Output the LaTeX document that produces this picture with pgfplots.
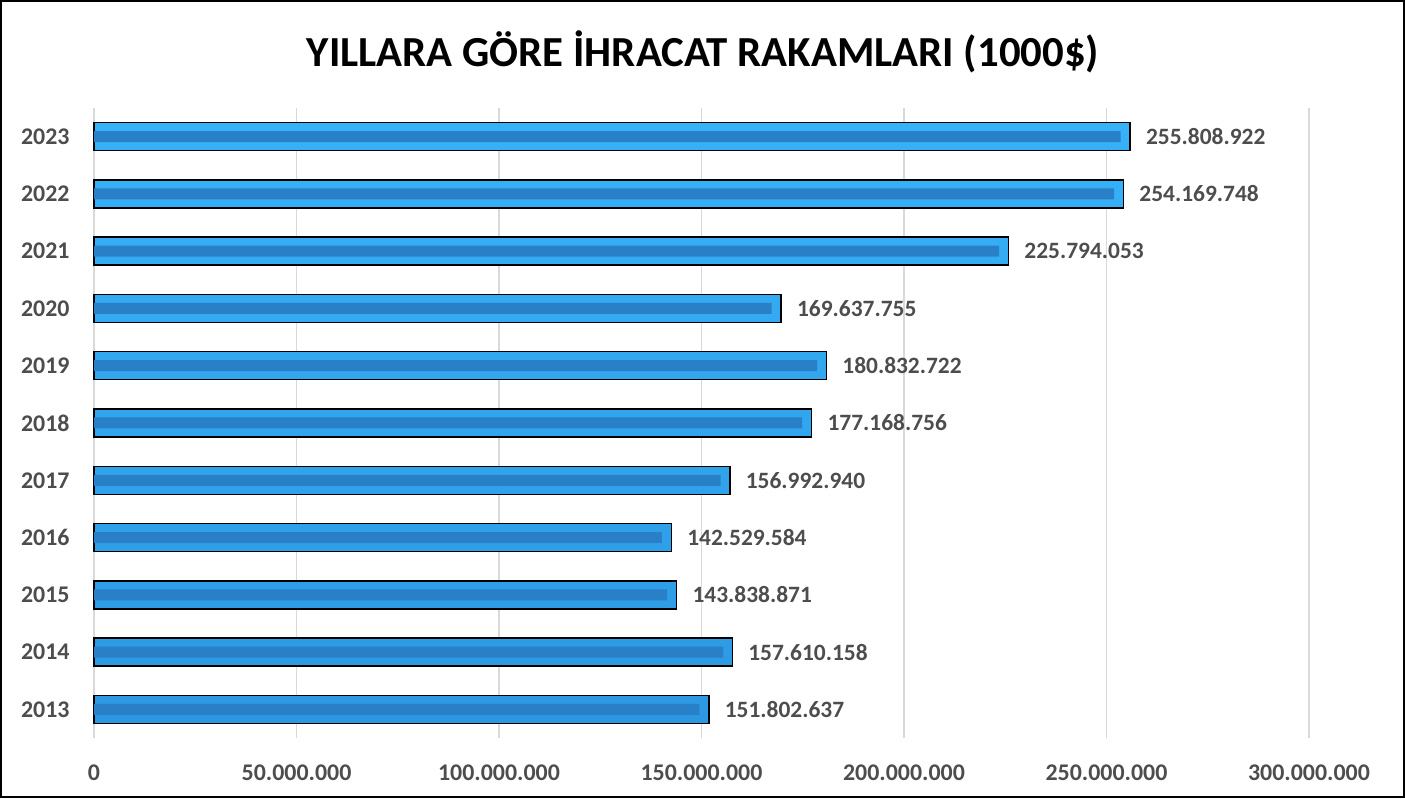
\documentclass[border=0pt]{standalone}
\usepackage{pgfplots}
\pgfplotsset{compat=1.18}
\usepackage{pgfplotstable}
\usepackage{fontspec}
\setmainfont{Carlito}
\definecolor{lbl}{HTML}{4D4D4D}
\definecolor{gridc}{HTML}{D9D9D9}
\definecolor{barlight}{HTML}{36B2F8}
\definecolor{barmid}{HTML}{2C98E2}
\definecolor{bardark}{HTML}{2A80C6}
\pgfplotstableread{
y v label
2013 151802637 151.802.637
2014 157610158 157.610.158
2015 143838871 143.838.871
2016 142529584 142.529.584
2017 156992940 156.992.940
2018 177168756 177.168.756
2019 180832722 180.832.722
2020 169637755 169.637.755
2021 225794053 225.794.053
2022 254169748 254.169.748
2023 255808922 255.808.922
}\data
\begin{document}
\begin{tikzpicture}[x=1bp,y=1bp]
\path[use as bounding box] (0,0) rectangle (1405,798);
\draw[line width=2.2bp] (1.1,1.1) rectangle (1403.9,796.9);
\node[font=\bfseries\fontsize{43}{50}\selectfont, text=black] at (703,746) {YILLARA GÖRE İHRACAT RAKAMLARI (1000\$)};
\begin{axis}[
  at={(94bp,60bp)}, anchor=south west,
  width=1215bp, height=630bp, scale only axis,
  xmin=0, xmax=300000000,
  ymin=2012.5, ymax=2023.5,
  axis line style={draw=none},
  major tick length=0pt,
  xmajorgrids, grid style={color=gridc, line width=1.3bp},
  xtick={0,50000000,100000000,150000000,200000000,250000000,300000000},
  xticklabels={0,50.000.000,100.000.000,150.000.000,200.000.000,250.000.000,300.000.000},
  scaled x ticks=false,
  ytick={2013,2014,2015,2016,2017,2018,2019,2020,2021,2022,2023},
  yticklabels={2013,2014,2015,2016,2017,2018,2019,2020,2021,2022,2023},
  tick label style={font=\bfseries\fontsize{24}{28}\selectfont, text=lbl},
  xticklabel style={anchor=north, yshift=-23bp},
  yticklabel style={anchor=east, xshift=-21bp},
  clip=false,
]
\addplot[xbar, bar width=28bp, bar shift=0pt, draw=black, line width=1.4bp,
  top color=barlight, bottom color=barmid,
  point meta=explicit symbolic,
  nodes near coords={\pgfplotspointmeta},
  every node near coord/.append style={anchor=west, xshift=12bp, font=\bfseries\fontsize{23.5}{27}\selectfont, text=lbl}]
  table[x=v, y=y, meta=label]{\data};
\addplot[xbar, bar width=11bp, bar shift=0pt, draw=none, fill=bardark]
  table[x expr=\thisrow{v}-2300000, y=y]{\data};
\end{axis}
\end{tikzpicture}
\end{document}
